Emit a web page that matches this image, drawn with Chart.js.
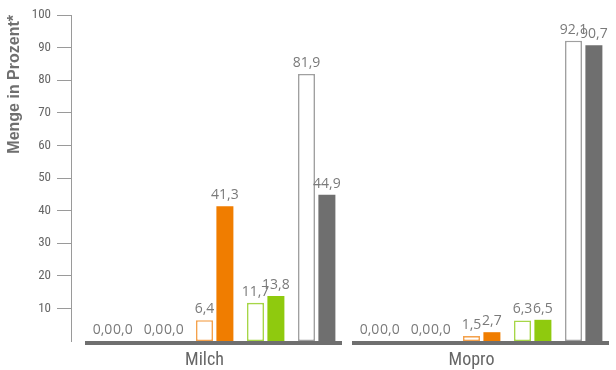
<!DOCTYPE html>
<html lang="de">
<head>
<meta charset="utf-8">
<script src="https://cdn.jsdelivr.net/npm/chart.js@4.4.1/dist/chart.umd.min.js"></script>
<style>
  html, body { margin: 0; padding: 0; background: #fff; }
  #wrap { width: 616px; height: 370px; position: relative; }
</style>
</head>
<body>
<div id="wrap"><canvas id="chart"></canvas></div>
<script>
const categories = ['Milch', 'Mopro'];
// je Farbgruppe: hell = nur Umriss, voll = gefüllt
const gruppe1Hell = [0.0, 0.0];
const gruppe1Voll = [0.0, 0.0];
const gruppe2Hell = [0.0, 0.0];
const gruppe2Voll = [0.0, 0.0];
const orangeHell = [6.4, 1.5];
const orangeVoll = [41.3, 2.7];
const gruenHell = [11.7, 6.3];
const gruenVoll = [13.8, 6.5];
const grauHell = [81.9, 92.1];
const grauVoll = [44.9, 90.7];
const yTicks = [10, 20, 30, 40, 50, 60, 70, 80, 90, 100];

const narrow = "'Roboto Condensed', 'Liberation Sans Narrow', Roboto, sans-serif";

const groups = [
  { hell: gruppe1Hell, voll: gruppe1Voll, line: '#a0a0a0', fill: '#9a9a9a' },
  { hell: gruppe2Hell, voll: gruppe2Voll, line: '#a0a0a0', fill: '#9a9a9a' },
  { hell: orangeHell, voll: orangeVoll, line: '#f4a14c', fill: '#f07d00' },
  { hell: gruenHell, voll: gruenVoll, line: '#a6d647', fill: '#8fca0e' },
  { hell: grauHell, voll: grauVoll, line: '#a0a0a0', fill: '#6f6f6f' }
];

// leere Lücken-Datensätze, damit die Paare enger zusammenstehen
const spacer = () => ({ label: '', data: categories.map(() => null), spacer: true });

const datasets = [spacer(), spacer()];
groups.forEach((g, i) => {
  if (i > 0) datasets.push(spacer(), spacer());
  datasets.push({
    label: 'hell ' + i,
    data: g.hell,
    backgroundColor: '#ffffff',
    borderColor: g.line,
    borderWidth: ctx => ctx.raw ? 1.6 : 0,
    borderSkipped: false
  });
  datasets.push(spacer());
  datasets.push({
    label: 'voll ' + i,
    data: g.voll,
    backgroundColor: g.fill,
    borderWidth: 0
  });
});

const baseline = {
  id: 'baseline',
  afterDatasetsDraw(chart) {
    const ctx = chart.ctx, x = chart.scales.x, area = chart.chartArea;
    const w = x.width / categories.length;
    ctx.save();
    ctx.fillStyle = '#6f6f6f';
    categories.forEach((c, i) => {
      const cx = x.getPixelForValue(i);
      ctx.fillRect(cx - w / 2 + 14, area.bottom, w - 10, 4);
    });
    ctx.restore();
  }
};

const valueLabels = {
  id: 'valueLabels',
  afterDatasetsDraw(chart) {
    const ctx = chart.ctx;
    ctx.save();
    ctx.font = "14px 'Open Sans', sans-serif";
    ctx.fillStyle = '#7a7a7a';
    ctx.textAlign = 'center';
    ctx.textBaseline = 'bottom';
    chart.data.datasets.forEach((ds, i) => {
      if (ds.spacer) return;
      chart.getDatasetMeta(i).data.forEach((bar, j) => {
        ctx.fillText(ds.data[j].toFixed(1).replace('.', ','), bar.x, bar.y - 4);
      });
    });
    ctx.restore();
  }
};

new Chart(document.getElementById('chart'), {
  type: 'bar',
  data: { labels: categories, datasets },
  plugins: [baseline, valueLabels],
  options: {
    responsive: true,
    maintainAspectRatio: false,
    animation: false,
    categoryPercentage: 0.955,
    barPercentage: 1.667,
    layout: { padding: { top: 15, right: 11, left: 0, bottom: 0 } },
    plugins: { legend: { display: false }, tooltip: { enabled: false } },
    scales: {
      x: {
        grid: { display: false },
        border: { display: false },
        ticks: { color: '#666', padding: 1, font: { family: narrow, size: 18 } },
        afterFit: s => { s.height = 29; }
      },
      y: {
        min: 0,
        max: 100,
        afterBuildTicks: s => { s.ticks = yTicks.map(v => ({ value: v })); },
        afterFit: s => { s.width = 71; },
        grid: { drawOnChartArea: false, tickLength: 14, color: '#9a9a9a' },
        border: { color: '#9a9a9a' },
        ticks: { color: '#666', padding: 6, font: { family: narrow, size: 13 } },
        title: {
          display: true,
          text: 'Menge in Prozent*',
          align: 'end',
          color: '#6f6f6f',
          padding: { top: 5, bottom: 0 },
          font: { family: "'Liberation Sans', Arial, sans-serif", size: 16, weight: 'bold' }
        }
      }
    }
  }
});
</script>
</body>
</html>
